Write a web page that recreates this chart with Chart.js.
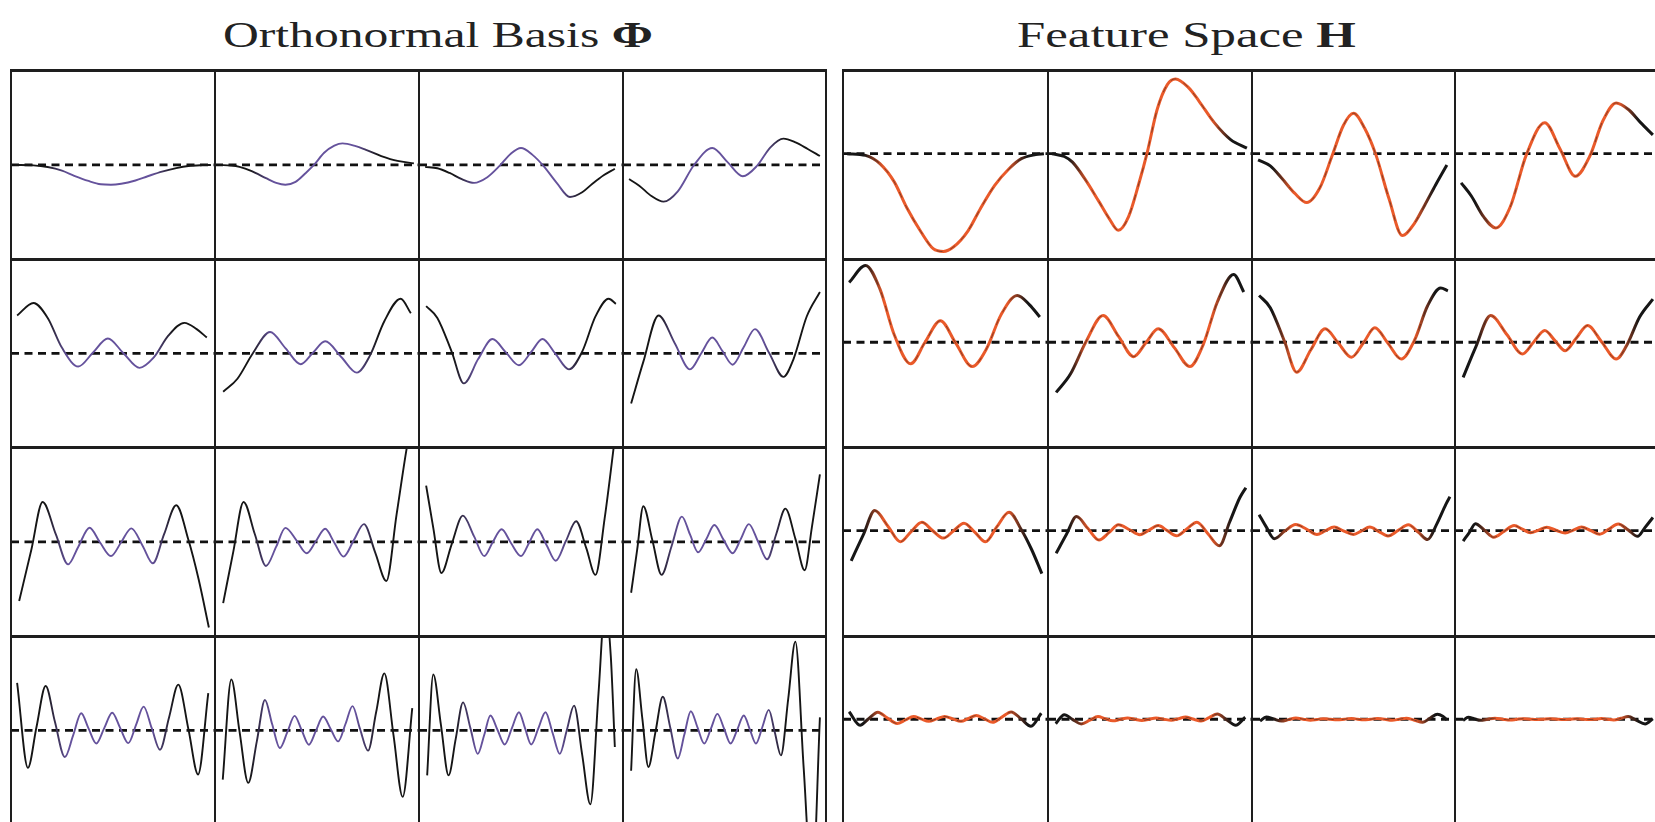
<!DOCTYPE html>
<html>
<head>
<meta charset="utf-8">
<title>Orthonormal Basis and Feature Space</title>
<script src="https://cdn.jsdelivr.net/npm/chart.js@4.4.0/dist/chart.umd.min.js"></script>
<style>
  html, body { margin: 0; padding: 0; background: #fff; }
  #page { position: relative; width: 1655px; height: 822px; overflow: hidden; }
  .cell { position: absolute; }
  .cell canvas { display: block; }
  .rule { position: absolute; background: #1e1e1e; }
  .title {
    position: absolute;
    font-family: 'Liberation Serif', 'Times New Roman', serif;
    font-size: 36px;
    line-height: 36px;
    color: #222;
    white-space: nowrap;
    transform-origin: 0 0;
  }
</style>
</head>
<body>
<div id="page">
  <div class="title" id="titleLeft">Orthonormal Basis <b>Φ</b></div>
  <div class="title" id="titleRight">Feature Space <b>H</b></div>
</div>
<script>
// sample positions (% of cell width) and curve heights
// basisNN = left grid, featureNN = right grid, same cell order (row by row)
const x01 = [2, 11, 18, 25, 31, 38, 44, 49, 54, 61, 67, 74, 81, 87, 94, 98];
const basis01 = [0, -0.4, -2.2, -6, -11.5, -17, -20.5, -21, -20, -16.5, -12, -7, -3.3, -1.1, -0.2, 0];
const feature01 = [0, -1.8, -10.6, -30, -57, -83, -101, -104, -99, -82, -58.5, -33.7, -16, -5.3, -1, 0];

const x02 = [2, 8, 12, 18, 25, 30, 34.5, 39.5, 44.5, 48.5, 53.5, 58.5, 62.5, 69, 74, 81.5, 89.5, 97.5];
const basis02 = [0, -0.6, -2, -6.5, -14, -19, -21, -18, -8.5, 0, 13, 20.5, 23, 20, 16, 9.5, 4.3, 1.7];
const feature02 = [0, -3, -9, -26.5, -51, -69, -81.5, -67, -32, 0, 47, 73.5, 79.5, 70, 56, 33, 15, 6];

const x03 = [3, 9, 15, 21, 27, 33.5, 39.5, 45, 50, 55.5, 61, 67.5, 74, 80, 85, 90.5, 96];
const basis03 = [-2, -3.5, -8.5, -15, -19, -13, -1, 12, 18, 11, -1, -19, -34, -29, -20, -11, -4];
const feature03 = [-6.5, -13, -27, -42, -52, -36, -2, 30, 43, 27, -1, -48, -87, -74, -55, -33, -12];

const x04 = [3, 8, 14, 20, 27, 35, 44, 51.5, 59, 66, 72.5, 79, 85, 91, 97];
const basis04 = [-15, -22, -33, -39, -28, 0, 18, 3, -12, -1, 18.5, 28, 24, 17, 9.5];
const feature04 = [-31, -45, -67, -79, -57, -1, 33, 5, -24, -3, 35, 54, 47, 33, 20];

const x05 = [3, 11, 18, 25, 33, 40, 47.5, 55, 63, 70, 77, 85, 91, 96];
const basis05 = [40.6, 54, 38, 6, -14, 0.5, 16, 0.5, -15.4, -4.3, 18.7, 32.7, 26, 17];
const feature05 = [64, 82, 57, 8, -23, 0, 23, -1, -26, -7, 29, 50, 40, 27];

const x06 = [4, 11, 18.5, 27, 34.5, 42, 48, 54, 62, 69.5, 76, 83, 91, 96];
const basis06 = [-41, -27, 0, 23, 5.75, -11.5, 0.75, 13, -4, -20.5, -2, 34.5, 58.5, 43];
const feature06 = [-53.6, -34, 0, 28.6, 6.6, -15.4, -0.5, 14.3, -6, -26, -3, 43, 72.5, 53.6];

const x07 = [3.5, 9, 16, 22, 29, 36, 42.5, 49, 55, 60.5, 67, 73.5, 80, 86.5, 93, 96.5];
const basis07 = [50.6, 38, 2, -32, -6, 15.4, 1.4, -12.6, 1.6, 15.4, -0.8, -17, 1.9, 39.6, 58.5, 53];
const feature07 = [50, 37, 1, -32, -8, 14.3, -0.8, -16, -0.3, 15.4, -1.2, -17.9, 2, 39, 58, 55];

const x08 = [4, 10, 17.5, 25.5, 33, 38.5, 44, 49, 54, 59.5, 65, 72, 79, 84, 90.5, 97];
const basis08 = [-53.5, -9, 40.6, 11, -17, 0, 17, 2.5, -12, 7, 26, 0.5, -25, -6, 39.5, 65.7];
const feature08 = [-37.5, -6, 28.6, 8, -12.5, 0, 12.5, 1.7, -9, 4.5, 17.9, 0, -17.9, -4, 27, 46];

const x09 = [4, 10, 15.5, 22, 28, 33, 38.5, 43.5, 49, 54, 59, 64.5, 69.5, 75, 81, 87, 92, 97];
const basis09 = [-62.8, -8, 42.5, 8, -23.8, -5, 15.2, 0, -15, -0.3, 14.5, -4, -22.7, 8, 39, 2, -40, -91];
const feature09 = [-32, -4, 21.4, 4.5, -11.8, -1.5, 9, 0.5, -7.9, 0, 7.9, -2, -11.8, 4, 19.6, 1, -20, -45.7];

const x10 = [4, 9, 14, 19.5, 25, 30, 34.5, 40, 45, 49.5, 54, 58.5, 63, 68, 73, 78.5, 84, 89, 94, 97];
const basis10 = [-65, -10, 42.5, 8.5, -25.5, -5, 15, 1.5, -12, 1, 14, -0.8, -15.6, 1.7, 19, -11, -41.5, 29, 100, 135];
const feature10 = [-24, -4, 15, 2.5, -10, -1.8, 6.4, 1, -4.3, 0.5, 5.4, 0, -5.4, 1.8, 9, -3.5, -16, 9, 35, 45.7];

const x11 = [3.5, 7, 11, 16, 21.5, 27, 32, 36, 40.5, 45, 50, 54, 58, 62.5, 67, 72, 77, 82, 86.5, 91, 95.5, 97.5];
const basis11 = [60, 15, -33, -2.5, 28, 6, -15, -0.8, 13.5, -0.8, -15, -0.8, 13.5, -3.2, -20, 1, 22, -6.5, -35, 25, 102, 140];
const feature11 = [17, 4, -8.5, -0.7, 6.5, 1.5, -4, -0.2, 3.8, -0.2, -4, -0.2, 3.8, -0.9, -5.6, 0.3, 6.2, -1.8, -9.5, 7, 28, 36];

const x12 = [4, 7, 10, 14.5, 19, 24, 29, 33, 37, 41, 45, 49.5, 54, 58, 62, 66.5, 71, 75.5, 80, 85, 89.5, 93, 97];
const basis12 = [-54, -8, 38, 1.5, -35, -4, 27, 8, -11, 3, 18, 2.5, -12, 3, 19, 0.5, -18.4, 8.5, 35.5, 2.75, -30, 15, 72];
const feature12 = [-11, -2, 7.5, 0.3, -7, -0.8, 5.4, 1.6, -2.2, 0.6, 3.6, 0.5, -2.4, 0.6, 3.8, 0.1, -3.7, 1.7, 7.1, 0.6, -6, 3, 14];

const x13 = [3, 8.3, 12.5, 17, 21.5, 26.4, 30.5, 34.4, 38, 41.8, 45.7, 49.6, 53.5, 57.5, 61.3, 65, 69, 73, 77.5, 82, 87, 91.7, 96.7];
const basis13 = [51, -40, 3.75, 47.5, 9.5, -28.4, -5, 18.4, 2.2, -14, 2.5, 19, 2.75, -13.5, 6, 25.5, 2.45, -20.6, 14.2, 49, 1, -47, 40];
const feature13 = [8, -6.4, 0.6, 7.6, 1.5, -4.5, -0.8, 2.9, 0.4, -2.2, 0.4, 3, 0.4, -2.2, 1, 4, 0.4, -3.3, 2.3, 7.8, 0.2, -7.5, 6.4];

const x14 = [3.8, 8, 12, 16.3, 20.5, 24.5, 28, 31.8, 35.5, 39, 42.5, 46, 49.5, 53, 56.7, 60.4, 64, 67.4, 71, 75, 79, 83, 87.5, 92, 96.7];
const basis14 = [-52.5, 54.6, -0.7, -56, -11.7, 32.6, 6.9, -18.8, -1.6, 15.6, 0.2, -15.2, -0.15, 14.9, 1.6, -11.7, 7.2, 26, 2.2, -21.6, 19.7, 61, -5, -71, 23.8];
const feature14 = [-4.7, 4.9, -0.1, -5, -1, 2.9, 0.6, -1.7, -0.1, 1.4, 0, -1.4, 0, 1.3, 0.1, -1.1, 0.6, 2.3, 0.2, -1.9, 1.8, 5.5, -0.5, -6.4, 2.1];

const x15 = [4, 7, 10.75, 14.5, 18, 21.6, 25.2, 28.8, 32, 35, 38.5, 42, 45.5, 49, 52, 55, 58.5, 62, 65.5, 69, 72.5, 76, 80, 84, 88, 91.3, 94, 96];
const basis15 = [-48, 60, 6, -48, -9, 30, 2.5, -25, -4.5, 16, 0.5, -15, 2.25, 19.5, 2.25, -15, 2.25, 19.5, -2.75, -25, 0.8, 26.6, -26, -79, 40, 135, 80, -17.7];
const feature15 = [-1.9, 2.4, 0.2, -1.9, -0.4, 1.2, 0.1, -1, -0.2, 0.6, 0, -0.6, 0.1, 0.8, 0.1, -0.6, 0.1, 0.8, -0.1, -1, 0, 1.1, -1, -3.2, 1.6, 5.4, 3.2, -0.7];

const x16 = [4, 6.5, 9.5, 12.5, 16, 19.6, 23.3, 27, 30.2, 33.4, 36.7, 40, 43.3, 46.5, 49.8, 53, 56.3, 59.5, 62.5, 65.5, 68.7, 71.8, 74.8, 77.8, 81.4, 84.9, 89, 93.2, 97];
const basis16 = [-43, 65.6, 13.3, -39, -1.5, 36, 3, -30, -4.7, 20.6, 3.3, -14, 1.85, 17.7, 1.85, -14, 1, 16, 1, -14, 4, 22, -2.3, -26.6, 34, 95, -40, -170, 14];
const feature16 = [-1.3, 2, 0.4, -1.2, 0, 1.1, 0.1, -0.9, -0.1, 0.6, 0.1, -0.4, 0.1, 0.5, 0.1, -0.4, 0, 0.5, 0, -0.4, 0.1, 0.7, -0.1, -0.8, 1, 2.9, -1.2, -5.1, 0.4];

const cellXs = [x01, x02, x03, x04, x05, x06, x07, x08, x09, x10, x11, x12, x13, x14, x15, x16];
const basisCurves = [basis01, basis02, basis03, basis04, basis05, basis06, basis07, basis08,
  basis09, basis10, basis11, basis12, basis13, basis14, basis15, basis16];
const featureCurves = [feature01, feature02, feature03, feature04, feature05, feature06, feature07, feature08,
  feature09, feature10, feature11, feature12, feature13, feature14, feature15, feature16];

// layout (page pixels)
const leftCols = [11, 215, 419, 623, 826];
const rightCols = [843, 1048, 1252, 1455, 1659];
const rowLines = [70, 259, 447, 636, 824];

const page = document.getElementById('page');

// black tails, coloured middle
function bandColor(mid, stops) {
  return function (context) {
    const chart = context.chart;
    const area = chart.chartArea;
    if (!area) return '#111';
    const g = chart.ctx.createLinearGradient(area.left, 0, area.right, 0);
    g.addColorStop(0, '#151515');
    g.addColorStop(stops[0], '#151515');
    g.addColorStop(stops[1], mid);
    g.addColorStop(stops[2], mid);
    g.addColorStop(stops[3], '#151515');
    g.addColorStop(1, '#151515');
    return g;
  };
}

const basisLook = { color: '#65529c', stops: [0.17, 0.28, 0.69, 0.8], width: 1.9, yMin: -100, yMax: 101, overlay: false };
const featureLook = { color: '#ea5a2a', stops: [0.1, 0.2, 0.8, 0.9], width: 3, yMin: -112, yMax: 89, overlay: true };

function drawCell(left, top, width, height, xs, ys, look) {
  const box = document.createElement('div');
  box.className = 'cell';
  box.style.left = left + 'px';
  box.style.top = top + 'px';
  box.style.width = width + 'px';
  box.style.height = height + 'px';
  const canvas = document.createElement('canvas');
  canvas.width = width;
  canvas.height = height;
  box.appendChild(canvas);
  page.appendChild(box);

  const points = xs.map(function (x, i) { return { x: x, y: ys[i] }; });
  const datasets = [
    {
      data: [{ x: 0, y: 0 }, { x: 100, y: 0 }],
      borderColor: '#111',
      borderWidth: 2.8,
      borderDash: [8, 5.5],
      order: 3
    },
    {
      data: points,
      borderColor: bandColor(look.color, look.stops),
      borderWidth: look.width,
      cubicInterpolationMode: 'monotone',
      order: 1
    }
  ];
  if (look.overlay) {
    datasets.push({
      data: points,
      borderColor: 'rgba(30,30,30,0.55)',
      borderWidth: 0.9,
      borderDash: [6, 8],
      cubicInterpolationMode: 'monotone',
      order: 0
    });
  }

  new Chart(canvas, {
    type: 'line',
    data: { datasets: datasets },
    options: {
      responsive: false,
      devicePixelRatio: 1,
      animation: false,
      events: [],
      layout: { padding: 0 },
      elements: { point: { radius: 0 }, line: { fill: false } },
      plugins: { legend: { display: false }, tooltip: { enabled: false }, title: { display: false } },
      scales: {
        x: { type: 'linear', display: false, min: 0, max: 100 },
        y: { type: 'linear', display: false, min: look.yMin, max: look.yMax }
      }
    }
  });
}

function drawGrid(cols, curves, look) {
  for (let r = 0; r < 4; r++) {
    for (let c = 0; c < 4; c++) {
      const k = r * 4 + c;
      drawCell(cols[c], rowLines[r], cols[c + 1] - cols[c], rowLines[r + 1] - rowLines[r],
        cellXs[k], curves[k], look);
    }
  }
}

function rule(left, top, width, height) {
  const d = document.createElement('div');
  d.className = 'rule';
  d.style.left = left + 'px';
  d.style.top = top + 'px';
  d.style.width = width + 'px';
  d.style.height = height + 'px';
  page.appendChild(d);
}

function drawRules(cols) {
  cols.forEach(function (x) { rule(x - 1, rowLines[0] - 1, 2, 822 - rowLines[0] + 1); });
  rowLines.forEach(function (y) { rule(cols[0] - 1, y - 1.5, cols[4] - cols[0] + 2, 3); });
}

drawGrid(leftCols, basisCurves, basisLook);
drawGrid(rightCols, featureCurves, featureLook);
drawRules(leftCols);
drawRules(rightCols);

// titles, stretched to the width they take in the figure
function placeTitle(id, left, baseline, width) {
  const el = document.getElementById(id);
  el.style.left = left + 'px';
  el.style.top = (baseline - 30) + 'px';
  const w = el.offsetWidth;
  el.style.transform = 'scaleX(' + (width / w) + ')';
}
placeTitle('titleLeft', 223, 47, 430);
placeTitle('titleRight', 1017, 47, 339);
</script>
</body>
</html>
